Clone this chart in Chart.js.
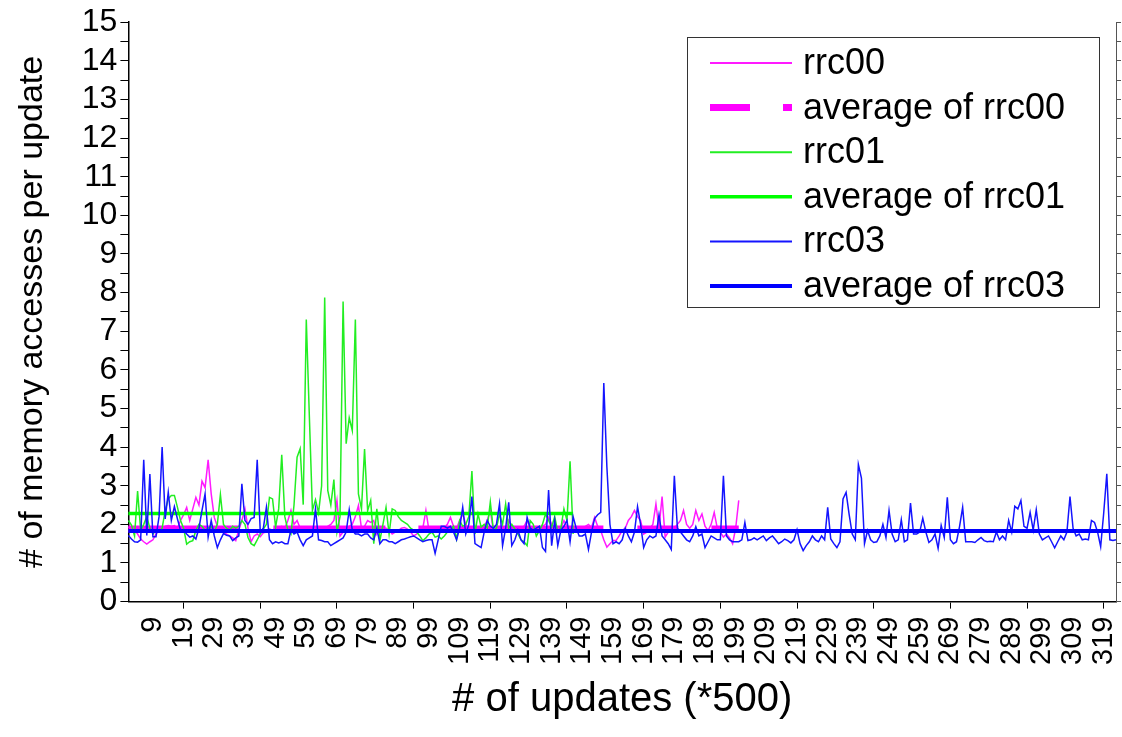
<!DOCTYPE html>
<html>
<head>
<meta charset="utf-8">
<script src="https://cdn.jsdelivr.net/npm/chart.js@4.4.1/dist/chart.umd.min.js"></script>
<style>
  html, body { margin: 0; padding: 0; background: #ffffff; }
  canvas { display: block; }
</style>
</head>
<body>
<canvas id="chart" width="1122" height="737"></canvas>
<script>
// ---------------- DATA ----------------
const categoryCount = 323;
const categories = Array.from({ length: categoryCount }, (_, i) => String(i + 1));

const xTickLabels = ['9','19','29','39','49','59','69','79','89','99','109','119','129','139','149',
  '159','169','179','189','199','209','219','229','239','249','259','269','279','289','299','309','319'];

const rrc00 = [
  1.93,1.9,1.85,1.75,1.62,1.55,1.49,1.55,1.6,1.75,
  1.85,1.88,1.95,1.97,1.95,1.97,1.9,2.1,2.25,2.44,
  2.1,2.4,2.7,2.5,3.12,2.95,3.67,2.79,2.18,1.95,
  1.9,1.8,1.75,1.7,1.65,1.58,1.85,2.1,2.4,1.9,
  1.55,1.7,1.75,1.68,1.78,1.8,1.88,1.85,1.9,1.92,
  1.95,1.9,2.1,2.36,2.0,2.1,1.9,1.85,1.84,1.8,
  1.84,1.89,1.84,1.9,1.84,1.95,2.0,2.1,2.62,1.7,
  1.8,1.84,1.95,2.0,2.2,2.49,1.89,1.95,2.1,2.05,
  2.1,1.75,1.9,1.92,1.9,1.85,1.75,1.8,1.84,1.9,
  1.92,1.88,1.8,1.7,1.75,1.84,1.9,2.36,1.84,1.84,
  1.85,1.84,1.9,1.92,2.0,2.18,1.95,1.9,2.1,2.27,
  2.0,1.84,1.9,1.92,1.84,1.88,1.95,2.1,2.36,1.84,
  1.9,1.92,1.89,1.85,2.1,1.95,1.84,1.85,1.84,1.95,
  2.1,1.9,1.92,1.84,1.88,1.95,2.0,2.18,2.0,1.92,
  1.84,1.9,2.1,1.95,1.92,1.89,1.85,1.84,1.9,1.95,
  2.0,1.92,2.18,1.95,1.84,1.6,1.41,1.5,1.58,1.58,
  1.7,1.84,1.9,2.1,2.2,2.36,2.2,2.1,1.75,1.8,
  1.9,2.0,2.53,1.9,2.72,1.67,1.8,1.84,1.9,2.0,
  2.1,2.36,2.0,1.9,2.0,2.36,2.1,2.27,1.95,1.84,
  2.0,2.31,1.9,1.8,1.67,1.75,1.65,1.5,1.9,2.62
];
const rrc00Average = 1.88;

const rrc01 = [
  2.1,1.98,1.7,2.86,1.84,2.0,2.2,1.9,1.75,1.85,
  1.8,1.9,2.36,2.66,2.75,2.75,2.44,2.1,1.9,1.49,
  1.55,1.58,1.84,2.0,1.95,1.84,1.9,1.95,1.8,2.0,
  2.77,2.0,1.9,1.85,1.95,1.9,1.95,2.1,2.0,1.66,
  1.5,1.45,1.6,1.75,1.88,2.0,2.7,2.66,1.93,2.4,
  3.8,2.2,1.85,1.75,2.5,3.74,3.96,2.51,7.3,4.8,
  2.36,2.64,2.3,3.0,7.87,2.88,2.5,3.16,1.8,2.2,
  7.77,4.09,4.76,4.43,7.3,2.79,2.4,3.95,2.35,2.62,
  1.5,2.4,1.58,2.0,2.44,1.75,2.4,2.36,2.2,2.1,
  2.05,2.0,1.9,1.85,1.8,1.7,1.58,1.65,1.75,1.8,
  1.67,1.7,1.62,1.7,1.8,1.85,1.95,1.62,2.1,1.95,
  2.0,2.2,3.38,1.75,2.27,1.93,2.0,1.9,2.58,1.85,
  1.9,2.27,2.0,2.53,1.9,2.0,1.88,1.75,1.6,1.55,
  1.45,2.1,2.0,1.7,1.84,2.0,2.27,2.1,1.93,2.2,
  1.8,1.9,2.4,2.1,3.63,1.75
];
const rrc01Average = 2.28;

const rrc03 = [
  1.71,1.62,1.55,1.54,1.6,3.67,1.71,3.3,1.68,1.68,
  2.2,4.0,2.14,2.83,2.1,2.46,2.14,1.84,1.84,1.75,
  1.67,1.7,1.62,1.9,2.36,2.79,1.67,2.1,1.7,1.4,
  1.6,1.76,1.72,1.7,1.58,1.65,1.7,3.05,2.1,2.0,
  2.15,2.18,3.67,1.8,1.9,2.44,1.6,1.5,1.55,1.52,
  1.55,1.5,1.5,1.85,1.75,1.8,1.6,1.45,1.6,1.65,
  1.7,2.4,1.6,1.58,1.55,1.55,1.45,1.5,1.55,1.6,
  1.65,1.8,2.38,1.85,1.75,1.75,1.7,1.75,1.75,1.65,
  1.6,1.9,1.5,1.6,1.6,1.55,1.55,1.5,1.55,1.6,
  1.62,1.65,1.68,1.7,1.65,1.6,1.55,1.58,1.6,1.6,
  1.25,1.6,1.95,1.95,1.9,1.95,1.8,1.6,1.9,2.44,
  1.75,2.0,2.72,1.5,1.45,1.4,1.8,2.1,1.95,1.9,
  2.0,2.53,1.45,1.9,2.57,1.45,1.6,1.85,1.6,1.5,
  2.18,1.9,1.85,1.9,1.95,1.4,1.3,2.89,1.45,2.1,
  1.45,1.85,1.95,2.1,1.55,2.2,1.9,1.7,1.7,1.75,
  1.35,1.8,2.15,2.25,2.31,5.66,3.5,2.0,1.5,1.55,
  1.5,1.6,1.9,1.7,1.55,1.8,2.46,2.0,1.4,1.6,
  1.7,1.65,1.7,2.25,1.7,1.6,1.5,1.35,3.26,1.9,
  1.8,1.7,1.6,1.55,1.7,1.94,1.7,1.75,1.4,1.55,
  1.7,1.65,1.6,1.6,3.26,1.7,1.6,1.55,1.55,1.55,
  1.6,2.05,1.58,1.6,1.65,1.6,1.65,1.7,1.58,1.65,
  1.7,1.6,1.5,1.55,1.62,1.58,1.52,1.6,1.86,1.5,
  1.32,1.45,1.55,1.7,1.6,1.55,1.7,1.6,2.44,1.62,
  1.5,1.4,1.55,2.66,2.83,2.25,1.75,1.6,3.55,3.2,
  1.5,1.84,1.6,1.53,1.55,1.7,2.0,1.66,2.36,1.75,
  1.55,1.6,2.12,1.55,1.6,2.55,1.75,1.75,1.8,2.16,
  1.8,1.53,1.6,1.75,1.38,1.97,1.66,2.7,1.6,1.5,
  1.55,1.95,2.44,1.55,1.55,1.55,1.53,1.6,1.66,1.58,
  1.55,1.56,1.55,1.8,1.6,1.7,1.6,2.1,1.8,2.47,
  2.4,2.62,1.95,1.9,2.31,1.85,2.38,1.75,1.6,1.65,
  1.7,1.55,1.39,1.55,1.7,1.6,1.8,2.72,1.9,1.7,
  1.75,1.6,1.62,1.6,2.1,2.05,1.8,1.42,2.3,3.31,
  1.6,1.58,1.6
];
const rrc03Average = 1.83;

// ---------------- STYLE ----------------
const FONT = '"Liberation Sans", Arial, Helvetica, sans-serif';
const constantLine = (series, value) => series.map(() => value);

const legendLayout = { x: 687, y: 37, w: 412, h: 270, lineX0: 710, lineX1: 792, textX: 803, rowY0: 63, rowGap: 44.6, fontSize: 36 };

const boxedLegend = {
  id: 'boxedLegend',
  afterDraw(chart) {
    const L = legendLayout;
    const ctx = chart.ctx;
    ctx.save();
    ctx.fillStyle = '#ffffff';
    ctx.fillRect(L.x, L.y, L.w, L.h);
    ctx.strokeStyle = '#333333';
    ctx.lineWidth = 1;
    ctx.strokeRect(L.x + 0.5, L.y + 0.5, L.w, L.h);
    chart.data.datasets.forEach((ds, i) => {
      const y = L.rowY0 + i * L.rowGap;
      ctx.beginPath();
      ctx.setLineDash(ds.legendDash || []);
      ctx.lineCap = 'butt';
      ctx.strokeStyle = ds.borderColor;
      ctx.lineWidth = ds.legendWidth || ds.borderWidth;
      ctx.moveTo(L.lineX0, y);
      ctx.lineTo(L.lineX1, y);
      ctx.stroke();
      ctx.setLineDash([]);
      ctx.fillStyle = '#000000';
      ctx.font = L.fontSize + 'px ' + FONT;
      ctx.textBaseline = 'middle';
      ctx.textAlign = 'left';
      ctx.fillText(ds.label, L.textX, y + 1);
    });
    ctx.restore();
  }
};

const lineBase = { pointRadius: 0, pointHoverRadius: 0, tension: 0, fill: false, borderCapStyle: 'butt', borderJoinStyle: 'miter' };

new Chart(document.getElementById('chart'), {
  type: 'line',
  data: {
    labels: categories,
    datasets: [
      Object.assign({}, lineBase, { label: 'rrc00', data: rrc00, borderColor: '#ff1aff', borderWidth: 1.5, legendWidth: 2, order: 6 }),
      Object.assign({}, lineBase, { label: 'average of rrc00', data: constantLine(rrc00, rrc00Average), borderColor: '#ff00ff', borderWidth: 7,
        borderDash: [110, 35, 112, 33, 185, 34, 41, 33, 60], legendDash: [40, 33], legendWidth: 7, order: 5 }),
      Object.assign({}, lineBase, { label: 'rrc01', data: rrc01, borderColor: '#22ee22', borderWidth: 1.5, legendWidth: 2, order: 4 }),
      Object.assign({}, lineBase, { label: 'average of rrc01', data: constantLine(rrc01, rrc01Average), borderColor: '#00ff00', borderWidth: 3.5, order: 3 }),
      Object.assign({}, lineBase, { label: 'rrc03', data: rrc03, borderColor: '#1414ff', borderWidth: 1.5, legendWidth: 2, order: 2 }),
      Object.assign({}, lineBase, { label: 'average of rrc03', data: constantLine(rrc03, rrc03Average), borderColor: '#0000ff', borderWidth: 4, order: 1 })
    ]
  },
  options: {
    responsive: false,
    animation: false,
    devicePixelRatio: 1,
    events: [],
    layout: { padding: { top: 5, right: 1, bottom: 0, left: 0 } },
    plugins: { legend: { display: false }, tooltip: { enabled: false }, title: { display: false } },
    scales: {
      x: {
        type: 'category',
        offset: false,
        afterFit: (scale) => { scale.paddingLeft = 0; scale.paddingRight = 0; },
        border: { display: true, color: '#000000', width: 1.5 },
        grid: {
          display: true, drawOnChartArea: false, drawTicks: true, tickLength: 7, offset: false,
          tickColor: (c) => (c.index % 5 === 3 ? '#000000' : 'rgba(0,0,0,0)'),
          tickWidth: 1
        },
        ticks: {
          autoSkip: false, minRotation: 90, maxRotation: 90, padding: 8, color: '#000000',
          sampleSize: 1000, maxTicksLimit: 1000,
          font: { family: FONT, size: 29 },
          callback: function (value, index) {
            const lab = categories[index];
            if (xTickLabels.includes(lab)) return lab;
            if (index % 5 === 3) return '';
            return null;
          }
        },
        title: { display: true, text: '# of updates (*500)', color: '#000000', font: { family: FONT, size: 40 }, padding: { top: 3, bottom: 13 } }
      },
      y: {
        type: 'linear', position: 'left', min: 0, max: 15,
        border: { display: true, color: '#000000', width: 1.5 },
        grid: { display: true, drawOnChartArea: false, drawTicks: true, tickLength: 8, tickColor: '#000000', tickWidth: 1 },
        ticks: {
          stepSize: 0.5, maxTicksLimit: 100, autoSkip: false, padding: 3, color: '#000000', font: { family: FONT, size: 32 },
          callback: (v) => (Number.isInteger(v) ? String(v) : '')
        },
        title: { display: true, text: '# of memory accesses per update', color: '#000000', font: { family: FONT, size: 34 }, padding: { top: 12, bottom: 26 } }
      },
      y2: {
        type: 'linear', position: 'right', min: 0, max: 15,
        border: { display: true, color: '#555555', width: 1 },
        grid: { display: true, drawOnChartArea: false, drawTicks: true, tickLength: 5, tickColor: '#555555' },
        ticks: { display: false, stepSize: 0.5, maxTicksLimit: 100, autoSkip: false }
      }
    }
  },
  plugins: [boxedLegend]
});
</script>
</body>
</html>
